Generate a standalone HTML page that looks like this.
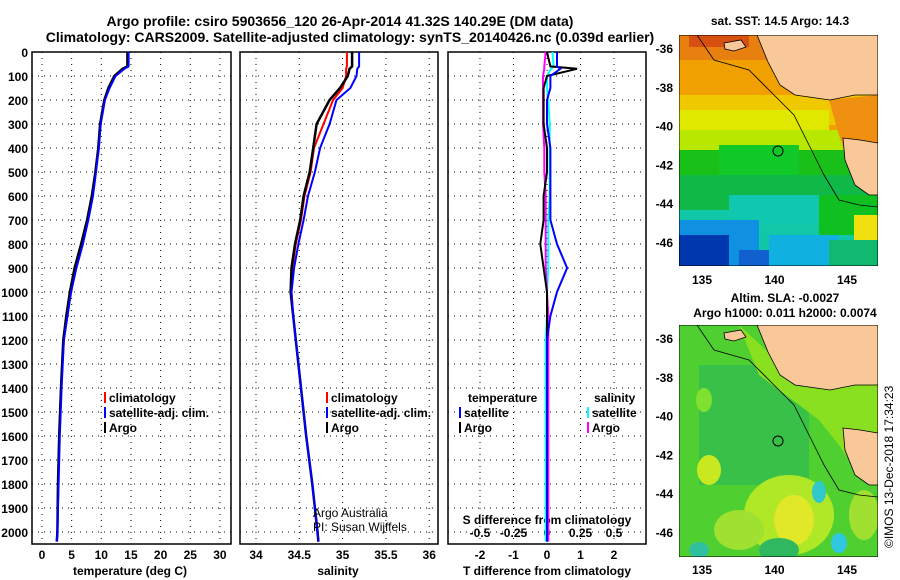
<!DOCTYPE html>
<html><head><meta charset="utf-8">
<style>
body{margin:0;background:#fff;}
svg{display:block;font-family:"Liberation Sans",sans-serif;font-weight:bold;}
</style></head>
<body>
<svg id="c" width="900" height="580" viewBox="0 0 900 580" xmlns="http://www.w3.org/2000/svg">
<text x="340" y="26" font-size="14" text-anchor="middle">Argo profile: csiro 5903656_120 26-Apr-2014 41.32S 140.29E (DM data)</text>
<text x="350" y="42" font-size="14" text-anchor="middle">Climatology: CARS2009. Satellite-adjusted climatology: synTS_20140426.nc (0.039d earlier)</text>
<g id="maps">
 <text x="780" y="25" font-size="12" text-anchor="middle">sat. SST: 14.5 Argo: 14.3</text>
 <svg x="679" y="35" width="199" height="231">
  <rect width="199" height="231" fill="#f0a000"/>
  <rect width="199" height="25" fill="#e88010"/>
  <rect x="10" width="60" height="12" fill="#d85010"/>
  <rect y="60" width="199" height="30" fill="#f0c800"/>
  <rect y="75" width="150" height="30" fill="#e0e800"/>
  <rect y="95" width="199" height="20" fill="#b8e800"/>
  <rect y="115" width="199" height="60" fill="#18c018"/>
  <rect x="40" y="110" width="80" height="30" fill="#10c828"/>
  <rect y="140" width="199" height="40" fill="#10b848"/>
  <rect y="175" width="199" height="56" fill="#10c8a8"/>
  <rect x="50" y="160" width="90" height="30" fill="#10c8b0"/>
  <rect y="185" width="80" height="46" fill="#1090e0"/>
  <rect x="90" y="200" width="70" height="31" fill="#10b0e0"/>
  <rect y="200" width="50" height="31" fill="#0038b0"/>
  <rect x="60" y="215" width="30" height="16" fill="#1060d0"/>
  <rect x="140" y="160" width="59" height="40" fill="#10c020"/>
  <rect x="175" y="180" width="24" height="25" fill="#f0e010"/>
  <rect x="150" y="205" width="49" height="26" fill="#10b870"/>
  <polygon points="150,65 199,60 199,160 190,150 170,130 160,100" fill="#f09010"/>
  <polygon points="78,0 89,27 101,50 116,60 151,65 176,60 199,60 199,0" fill="#f8c898" stroke="#000" stroke-width="0.8"/>
  <polygon points="164,103 181,105 199,108 199,160 190,160 176,150 166,125" fill="#f8c898" stroke="#000" stroke-width="0.8"/>
  <polygon points="45,8 62,5 67,12 55,16 46,14" fill="#f8c898" stroke="#000" stroke-width="0.8"/>
  <polyline points="18,0 35,25 70,35 95,60 115,80 130,110 145,140 160,165 180,170 199,172" fill="none" stroke="#000" stroke-width="0.8"/>
  <circle cx="99" cy="116" r="5" fill="none" stroke="#000" stroke-width="1"/>
  <rect width="199" height="231" fill="none" stroke="#000"/>
 </svg>
 <text x="785" y="302" font-size="12" text-anchor="middle">Altim. SLA: -0.0027</text>
 <text x="785" y="317" font-size="12" text-anchor="middle">Argo h1000: 0.011 h2000: 0.0074</text>
 <svg x="679" y="325" width="199" height="232">
  <rect width="199" height="232" fill="#50d030"/>
  <rect x="20" y="40" width="110" height="120" fill="#38c048"/>
  <ellipse cx="30" cy="145" rx="12" ry="15" fill="#c8e820"/>
  <ellipse cx="25" cy="75" rx="8" ry="12" fill="#80e030"/>
  <ellipse cx="110" cy="190" rx="45" ry="40" fill="#b0e828"/>
  <ellipse cx="115" cy="195" rx="20" ry="25" fill="#e0e828"/>
  <ellipse cx="60" cy="205" rx="25" ry="20" fill="#a0e030"/>
  <ellipse cx="100" cy="225" rx="20" ry="12" fill="#30b860"/>
  <ellipse cx="140" cy="167" rx="7" ry="11" fill="#30c8c8"/>
  <ellipse cx="160" cy="218" rx="8" ry="10" fill="#30c8e0"/>
  <ellipse cx="20" cy="225" rx="10" ry="8" fill="#30c0a0"/>
  <ellipse cx="185" cy="190" rx="15" ry="25" fill="#a0e030"/>
  <polygon points="60,0 89,27 101,50 116,60 151,65 176,60 199,60 199,160 180,150 160,120 140,95 120,80 100,65 80,50" fill="#88e020"/>
  <polygon points="78,0 89,27 101,50 116,60 151,65 176,60 199,60 199,0" fill="#f8c898" stroke="#000" stroke-width="0.8"/>
  <polygon points="164,103 181,105 199,108 199,160 190,160 176,150 166,125" fill="#f8c898" stroke="#000" stroke-width="0.8"/>
  <polygon points="45,8 62,5 67,12 55,16 46,14" fill="#f8c898" stroke="#000" stroke-width="0.8"/>
  <polyline points="18,0 35,25 70,35 95,60 115,80 130,110 145,140 160,165 180,170 199,172" fill="none" stroke="#000" stroke-width="0.8"/>
  <circle cx="99" cy="116" r="5" fill="none" stroke="#000" stroke-width="1"/>
  <rect width="199" height="232" fill="none" stroke="#000"/>
 </svg>
 <text transform="translate(893,548) rotate(-90)" font-size="12" font-weight="normal">©IMOS 13-Dec-2018 17:34:23</text>
</g>
<g id="plots"></g>
</svg>
<script>
// ---- data ----
const depthTicks=[0,100,200,300,400,500,600,700,800,900,1000,1100,1200,1300,1400,1500,1600,1700,1800,1900,2000];
const tempTicks=[0,5,10,15,20,25,30];
const salTicks=[34,34.5,35,35.5,36];
const tdiffTicks=[-2,-1,0,1,2];
const sdiffTicks=["-0.5","-0.25","0","0.25","0.5"];
const depths=[0,60,70,100,150,200,300,400,500,600,700,800,900,1000,1100,1200,1400,1600,1800,2000,2040];
const tempArgo=[14.4,14.4,13.6,12.2,11.2,10.5,9.8,9.5,9.0,8.4,7.6,6.6,5.5,4.7,4.1,3.6,3.2,2.9,2.7,2.6,2.5];
const tempClim=[14.5,14.5,13.8,12.3,11.3,10.6,9.9,9.5,9.0,8.5,7.7,6.8,5.7,4.9,4.2,3.7,3.2,2.9,2.7,2.6,2.5];
const tempSat=[14.6,14.6,13.9,12.4,11.4,10.6,9.9,9.6,9.1,8.6,7.8,6.9,5.8,4.9,4.3,3.7,3.3,3.0,2.8,2.6,2.5];
const salArgo=[35.11,35.11,35.08,35.06,34.97,34.85,34.70,34.66,34.62,34.55,34.51,34.45,34.41,34.40,34.43,34.46,34.52,34.58,34.65,34.71,34.72];
const salClim=[35.05,35.05,35.04,35.04,35.00,34.89,34.78,34.67,34.63,34.56,34.52,34.46,34.42,34.41,34.43,34.46,34.52,34.58,34.65,34.71,34.72];
const salSat=[35.19,35.19,35.17,35.16,35.09,34.93,34.85,34.74,34.68,34.60,34.55,34.49,34.44,34.41,34.43,34.46,34.52,34.58,34.65,34.71,34.72];
const dTsat=[0.3,0.3,0.4,0.1,0.1,0.0,0.0,0.1,0.1,0.1,0.1,0.3,0.6,0.3,0.1,0.0,0.0,0.0,0.0,0.0,0.0];
const dTargo=[0.0,0.1,0.9,0.0,-0.1,-0.1,-0.1,0.0,0.0,-0.1,-0.1,-0.2,-0.1,0.0,0.0,0.0,0.0,0.0,0.0,0.0,0.0];
const dSsat=[0.04,0.05,0.03,0.0,0.0,0.01,0.02,0.02,0.02,0.02,0.01,0.01,0.01,0.0,0.0,-0.01,-0.01,-0.01,-0.01,-0.01,-0.01];
const dSargo=[-0.01,-0.02,-0.02,-0.03,-0.03,-0.03,-0.03,-0.02,-0.02,-0.01,-0.01,-0.01,-0.01,0.0,0.01,0.01,0.01,0.01,0.01,0.01,0.01];
const latTicks=[-36,-38,-40,-42,-44,-46];
const lonTicks=[135,140,145];
// ---- layout ----
const NS='http://www.w3.org/2000/svg';
const top0=52,bot=544;
const yD=d=>top0+d*0.24;
const g=document.getElementById('plots');
function el(t,a,p){const e=document.createElementNS(NS,t);for(const k in a)e.setAttribute(k,a[k]);(p||g).appendChild(e);return e;}
function txt(x,y,s,size,anchor,name){const t=el('text',{x:x,y:y,'font-size':size,'text-anchor':anchor||'start'});t.textContent=s;


return t;}
function panel(x0,x1,xs,ticks,name){
 const r=el('rect',{x:x0,y:top0,width:x1-x0,height:bot-top0,fill:'none',stroke:'#000','stroke-width':1.5});
 
 
 depthTicks.forEach(d=>{const l=el('line',{x1:x0,x2:x1,y1:yD(d),y2:yD(d),stroke:'#000','stroke-dasharray':'1 5'});
  
  });
 ticks.forEach(v=>{const l=el('line',{x1:xs(v),x2:xs(v),y1:top0,y2:bot,stroke:'#000','stroke-dasharray':'1 5'});
  
  });
}
function line(xs,xv,col,w,name){
 const pts=depths.map((d,i)=>xs(xv[i]).toFixed(1)+','+yD(d).toFixed(1)).join(' ');
 const p=el('polyline',{points:pts,fill:'none',stroke:col,'stroke-width':w});
 
 
}
depthTicks.forEach(d=>txt(28,yD(d)+5,String(d),12,'end','depth-tick-label'));
const xT=v=>42+v*5.93;
panel(32,231,xT,tempTicks,'temperature-panel');
tempTicks.forEach(v=>txt(xT(v),559,String(v),12,'middle','temperature-tick-label'));
txt(130,575,'temperature (deg C)',12,'middle','temperature-axis-title');
line(xT,tempClim,'#f00',2,'temperature-climatology-line');
line(xT,tempArgo,'#000',2.5,'temperature-argo-line');
line(xT,tempSat,'#00f',2,'temperature-satellite-line');
const xS=v=>256+(v-34)*86.6;
panel(240,438,xS,salTicks,'salinity-panel');
salTicks.forEach(v=>txt(xS(v),559,String(v),12,'middle','salinity-tick-label'));
txt(338,575,'salinity',12,'middle','salinity-axis-title');
line(xS,salClim,'#f00',2,'salinity-climatology-line');
line(xS,salArgo,'#000',2.5,'salinity-argo-line');
line(xS,salSat,'#00f',2,'salinity-satellite-line');
txt(313,517,'Argo Australia',12,'start','argo-australia-label').setAttribute('font-weight','normal');
txt(313,531,'PI: Susan Wijffels',12,'start','pi-label').setAttribute('font-weight','normal');
const xDT=v=>547+v*33.5;
const xDS=v=>547+v*134;
panel(448,646,xDT,tdiffTicks,'difference-panel');
tdiffTicks.forEach(v=>txt(xDT(v),559,String(v),12,'middle','tdiff-tick-label'));
sdiffTicks.forEach(v=>txt(xDS(+v),537,v,12,'middle','sdiff-tick-label'));
txt(547,524,'S difference from climatology',12,'middle','sdiff-axis-title');
txt(547,575,'T difference from climatology',12,'middle','tdiff-axis-title');
line(xDS,dSsat,'#0ff',2,'salinity-satellite-diff-line');
line(xDS,dSargo,'#f0f',2,'salinity-argo-diff-line');
line(xDT,dTargo,'#000',2,'temperature-argo-diff-line');
line(xDT,dTsat,'#00f',2,'temperature-satellite-diff-line');
function leg(x,y,col,label,name){
 const l=el('line',{x1:x,x2:x,y1:y-10,y2:y+1,stroke:col,'stroke-width':2});
 
 
 txt(x+4,y,label,12,'start',name);
}
[[105],[327]].forEach(([x])=>{
 leg(x,402,'#f00','climatology','legend-climatology');
 leg(x,417,'#00f','satellite-adj. clim.','legend-satellite');
 leg(x,432,'#000','Argo','legend-argo');
});
txt(468,402,'temperature',12,'start','legend-temperature-heading');
leg(460,417,'#00f','satellite','legend-temp-satellite');
leg(460,432,'#000','Argo','legend-temp-argo');
txt(594,402,'salinity',12,'start','legend-salinity-heading');
leg(588,417,'#0ff','satellite','legend-sal-satellite');
leg(588,432,'#f0f','Argo','legend-sal-argo');
latTicks.forEach(v=>{txt(673,48+(-36-v)*19.4+5,String(v),12,'end','sst-lat-tick');
 txt(673,338+(-36-v)*19.4+5,String(v),12,'end','sla-lat-tick');});
lonTicks.forEach(v=>{txt(702+(v-135)*14.5,284,String(v),12,'middle','sst-lon-tick');
 txt(702+(v-135)*14.5,574,String(v),12,'middle','sla-lon-tick');});
</script>
</body></html>
